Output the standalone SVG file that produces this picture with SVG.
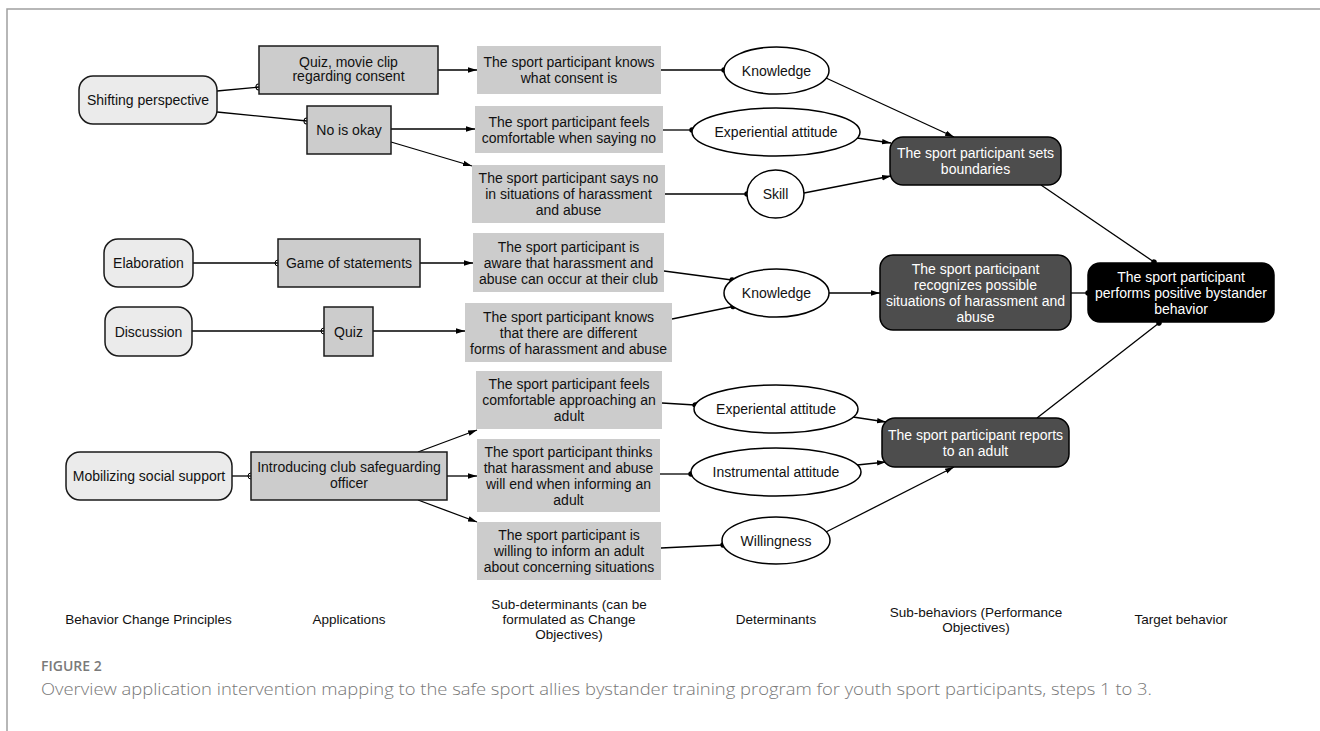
<svg xmlns="http://www.w3.org/2000/svg" width="1320" height="731" viewBox="0 0 1320 731">
<style>
  text { font-family: "Liberation Sans", Arial, sans-serif; font-size: 14px; fill: #111; text-anchor: middle; }
  .principle { fill: #ebebeb; stroke: #1a1a1a; stroke-width: 1.5; }
  .app { fill: #cccccc; stroke: #1a1a1a; stroke-width: 1.5; }
  .subdet { fill: #cccccc; stroke: none; }
  .det { fill: #ffffff; stroke: #000; stroke-width: 1.5; }
  .subbeh { fill: #4d4d4d; stroke: #000; stroke-width: 1.5; }
  .target { fill: #000; stroke: #000; stroke-width: 1.5; }
  .white { fill: #ffffff; }
  .edge { fill: none; stroke: #000; stroke-width: 1.3; }
  .col { font-size: 13.5px; }
  .frame { stroke: #a0a0a0; stroke-width: 1.5; fill: none; }
  .fig { font-family: "Open Sans", "Liberation Sans", sans-serif; font-size: 14px; fill: #7a7a7a; text-anchor: start; font-weight: 600; }
  .cap { font-family: "Open Sans", "Liberation Sans", sans-serif; font-size: 16px; fill: #777; text-anchor: start; font-weight: 300; }
</style>
<defs>
  <marker id="arrow" markerWidth="10" markerHeight="8" refX="9" refY="4" orient="auto" markerUnits="userSpaceOnUse">
    <path d="M0,1.3 L9,4 L0,6.7 z" fill="#000"/>
  </marker>
  <marker id="dot" markerWidth="8" markerHeight="8" refX="4" refY="4" orient="auto" markerUnits="userSpaceOnUse">
    <circle cx="4" cy="4" r="2.7" fill="#000"/>
  </marker>
  <marker id="socket" markerWidth="8" markerHeight="8" refX="4" refY="4" orient="auto" markerUnits="userSpaceOnUse">
    <path d="M4,1 A3,3 0 0 0 4,7" fill="none" stroke="#000" stroke-width="1"/>
  </marker>
</defs>

<rect width="1320" height="731" fill="#ffffff"/>
<polyline class="frame" points="7,731 7,9 1320,9"/>

<g id="connectors">
  <!-- principles to applications -->
  <path class="edge" d="M217,91 L259,87" marker-end="url(#socket)"/>
  <path class="edge" d="M217,112 L307,121" marker-end="url(#socket)"/>
  <path class="edge" d="M193,263 L278,263" marker-end="url(#socket)"/>
  <path class="edge" d="M192,331 L324,331" marker-end="url(#socket)"/>
  <path class="edge" d="M232,476 L251,476" marker-end="url(#socket)"/>
  <!-- applications to sub-determinants -->
  <path class="edge" d="M438,70 L477,70" marker-end="url(#arrow)"/>
  <path class="edge" d="M391,129 L475,129" marker-end="url(#arrow)"/>
  <path class="edge" d="M391,142 L472,166" marker-end="url(#arrow)"/>
  <path class="edge" d="M420,263 L473,263" marker-end="url(#arrow)"/>
  <path class="edge" d="M373,331 L465,331" marker-end="url(#arrow)"/>
  <path class="edge" d="M418,452 L477,430" marker-end="url(#arrow)"/>
  <path class="edge" d="M447,476 L477,476" marker-end="url(#arrow)"/>
  <path class="edge" d="M418,500 L477,522" marker-end="url(#arrow)"/>
  <!-- sub-determinants to determinants -->
  <path class="edge" d="M661,70 L724,70" marker-end="url(#dot)"/>
  <path class="edge" d="M663,130 L692,130" marker-end="url(#dot)"/>
  <path class="edge" d="M665,194 L747,194" marker-end="url(#dot)"/>
  <path class="edge" d="M664,271 L732,280" marker-end="url(#dot)"/>
  <path class="edge" d="M672,319 L733,306.5" marker-end="url(#dot)"/>
  <path class="edge" d="M662,403 L695,405" marker-end="url(#dot)"/>
  <path class="edge" d="M660,474 L691,474" marker-end="url(#dot)"/>
  <path class="edge" d="M661,548 L723,545" marker-end="url(#dot)"/>
  <!-- determinants to sub-behaviors -->
  <path class="edge" d="M826,78 L954,137" marker-end="url(#arrow)"/>
  <path class="edge" d="M857,138 L891,143" marker-end="url(#arrow)"/>
  <path class="edge" d="M804,193 L891,176" marker-end="url(#arrow)"/>
  <path class="edge" d="M829,293 L880,293" marker-end="url(#arrow)"/>
  <path class="edge" d="M853,417 L886,422" marker-end="url(#arrow)"/>
  <path class="edge" d="M857,465 L886,462" marker-end="url(#arrow)"/>
  <path class="edge" d="M826,532 L954,467" marker-end="url(#arrow)"/>
  <!-- sub-behaviors to target -->
  <path class="edge" d="M1041,185 L1154,262" marker-end="url(#dot)"/>
  <path class="edge" d="M1071,293 L1088,293" marker-end="url(#dot)"/>
  <path class="edge" d="M1037,418 L1159,323" marker-end="url(#dot)"/>
</g>

<!-- Behavior change principles -->
<g id="p-shifting">
  <rect class="principle" x="79" y="76" width="138" height="48" rx="14"/>
  <text x="148" y="105">Shifting perspective</text>
</g>
<g id="p-elaboration">
  <rect class="principle" x="104" y="239" width="89" height="48" rx="14"/>
  <text x="148.5" y="268">Elaboration</text>
</g>
<g id="p-discussion">
  <rect class="principle" x="105" y="307" width="87" height="49" rx="14"/>
  <text x="148.5" y="336.5">Discussion</text>
</g>
<g id="p-mobilizing">
  <rect class="principle" x="66" y="452" width="166" height="48" rx="14"/>
  <text x="149" y="481">Mobilizing social support</text>
</g>

<!-- Applications -->
<g id="a-quiz-movie">
  <rect class="app" x="259" y="46" width="179" height="48"/>
  <text x="348.5" y="67">Quiz, movie clip</text>
  <text x="348.5" y="80.5">regarding consent</text>
</g>
<g id="a-no-okay">
  <rect class="app" x="307" y="106" width="84" height="48"/>
  <text x="349" y="135">No is okay</text>
</g>
<g id="a-game">
  <rect class="app" x="278" y="239" width="142" height="48"/>
  <text x="349" y="268">Game of statements</text>
</g>
<g id="a-quiz">
  <rect class="app" x="324" y="307" width="49" height="49"/>
  <text x="348.5" y="336.5">Quiz</text>
</g>
<g id="a-introducing">
  <rect class="app" x="251" y="452" width="196" height="48"/>
  <text x="349" y="472">Introducing club safeguarding</text>
  <text x="349" y="488">officer</text>
</g>

<!-- Sub-determinants -->
<g id="sd-consent">
  <rect class="subdet" x="477" y="46" width="184" height="48"/>
  <text x="569" y="67">The sport participant knows</text>
  <text x="569" y="83">what consent is</text>
</g>
<g id="sd-comfortable-no">
  <rect class="subdet" x="475" y="106" width="188" height="47"/>
  <text x="569" y="126.5">The sport participant feels</text>
  <text x="569" y="142.5">comfortable when saying no</text>
</g>
<g id="sd-says-no">
  <rect class="subdet" x="472" y="165" width="193" height="58"/>
  <text x="568.5" y="183">The sport participant says no</text>
  <text x="568.5" y="199">in situations of harassment</text>
  <text x="568.5" y="215">and abuse</text>
</g>
<g id="sd-aware">
  <rect class="subdet" x="473" y="233" width="191" height="59"/>
  <text x="568.5" y="252">The sport participant is</text>
  <text x="568.5" y="268">aware that harassment and</text>
  <text x="568.5" y="284">abuse can occur at their club</text>
</g>
<g id="sd-forms">
  <rect class="subdet" x="465" y="303" width="207" height="59"/>
  <text x="568.5" y="321.5">The sport participant knows</text>
  <text x="568.5" y="337.5">that there are different</text>
  <text x="568.5" y="353.5">forms of harassment and abuse</text>
</g>
<g id="sd-approaching">
  <rect class="subdet" x="476" y="371" width="186" height="58"/>
  <text x="569" y="389">The sport participant feels</text>
  <text x="569" y="405">comfortable approaching an</text>
  <text x="569" y="421">adult</text>
</g>
<g id="sd-will-end">
  <rect class="subdet" x="477" y="439" width="183" height="73"/>
  <text x="568.5" y="457">The sport participant thinks</text>
  <text x="568.5" y="473">that harassment and abuse</text>
  <text x="568.5" y="489">will end when informing an</text>
  <text x="568.5" y="505">adult</text>
</g>
<g id="sd-willing">
  <rect class="subdet" x="477" y="522" width="184" height="58"/>
  <text x="569" y="539.5">The sport participant is</text>
  <text x="569" y="555.5">willing to inform an adult</text>
  <text x="569" y="571.5">about concerning situations</text>
</g>

<!-- Determinants -->
<g id="d-knowledge-1">
  <ellipse class="det" cx="776.5" cy="70.5" rx="52.5" ry="23.5"/>
  <text x="776.5" y="75.5">Knowledge</text>
</g>
<g id="d-experiential-1">
  <ellipse class="det" cx="776" cy="132" rx="84" ry="24"/>
  <text x="776" y="137">Experiential attitude</text>
</g>
<g id="d-skill">
  <ellipse class="det" cx="775.5" cy="194" rx="28.5" ry="24"/>
  <text x="775.5" y="199">Skill</text>
</g>
<g id="d-knowledge-2">
  <ellipse class="det" cx="776.5" cy="293" rx="52.5" ry="24"/>
  <text x="776.5" y="298">Knowledge</text>
</g>
<g id="d-experiental-2">
  <ellipse class="det" cx="776" cy="409" rx="82" ry="24"/>
  <text x="776" y="414">Experiental attitude</text>
</g>
<g id="d-instrumental">
  <ellipse class="det" cx="776" cy="472" rx="85" ry="24"/>
  <text x="776" y="477">Instrumental attitude</text>
</g>
<g id="d-willingness">
  <ellipse class="det" cx="776" cy="540.5" rx="54" ry="23.5"/>
  <text x="776" y="545.5">Willingness</text>
</g>

<!-- Sub-behaviors -->
<g id="sb-boundaries">
  <rect class="subbeh" x="890" y="137" width="171" height="48" rx="13"/>
  <text class="white" x="975.5" y="158">The sport participant sets</text>
  <text class="white" x="975.5" y="174">boundaries</text>
</g>
<g id="sb-recognizes">
  <rect class="subbeh" x="880" y="255" width="191" height="75" rx="13"/>
  <text class="white" x="975.5" y="273.5">The sport participant</text>
  <text class="white" x="975.5" y="289.5">recognizes possible</text>
  <text class="white" x="975.5" y="305.5">situations of harassment and</text>
  <text class="white" x="975.5" y="321.5">abuse</text>
</g>
<g id="sb-reports">
  <rect class="subbeh" x="882" y="418" width="187" height="49" rx="13"/>
  <text class="white" x="975.5" y="439.5">The sport participant reports</text>
  <text class="white" x="975.5" y="455.5">to an adult</text>
</g>

<!-- Target behavior -->
<g id="target">
  <rect class="target" x="1088" y="263" width="186" height="59" rx="12"/>
  <text class="white" x="1181" y="281.5">The sport participant</text>
  <text class="white" x="1181" y="297.5">performs positive bystander</text>
  <text class="white" x="1181" y="313.5">behavior</text>
</g>

<!-- Column labels -->
<g id="column-labels">
  <text class="col" x="148.5" y="624">Behavior Change Principles</text>
  <text class="col" x="349" y="624">Applications</text>
  <text class="col" x="569" y="609">Sub-determinants (can be</text>
  <text class="col" x="569" y="624">formulated as Change</text>
  <text class="col" x="569" y="639">Objectives)</text>
  <text class="col" x="776" y="624">Determinants</text>
  <text class="col" x="976" y="616.5">Sub-behaviors (Performance</text>
  <text class="col" x="976" y="631.5">Objectives)</text>
  <text class="col" x="1181" y="624">Target behavior</text>
</g>

<!-- Caption -->
<text class="fig" x="41" y="671">FIGURE 2</text>
<text class="cap" x="41" y="695" textLength="1111" lengthAdjust="spacingAndGlyphs">Overview application intervention mapping to the safe sport allies bystander training program for youth sport participants, steps 1 to 3.</text>
</svg>
